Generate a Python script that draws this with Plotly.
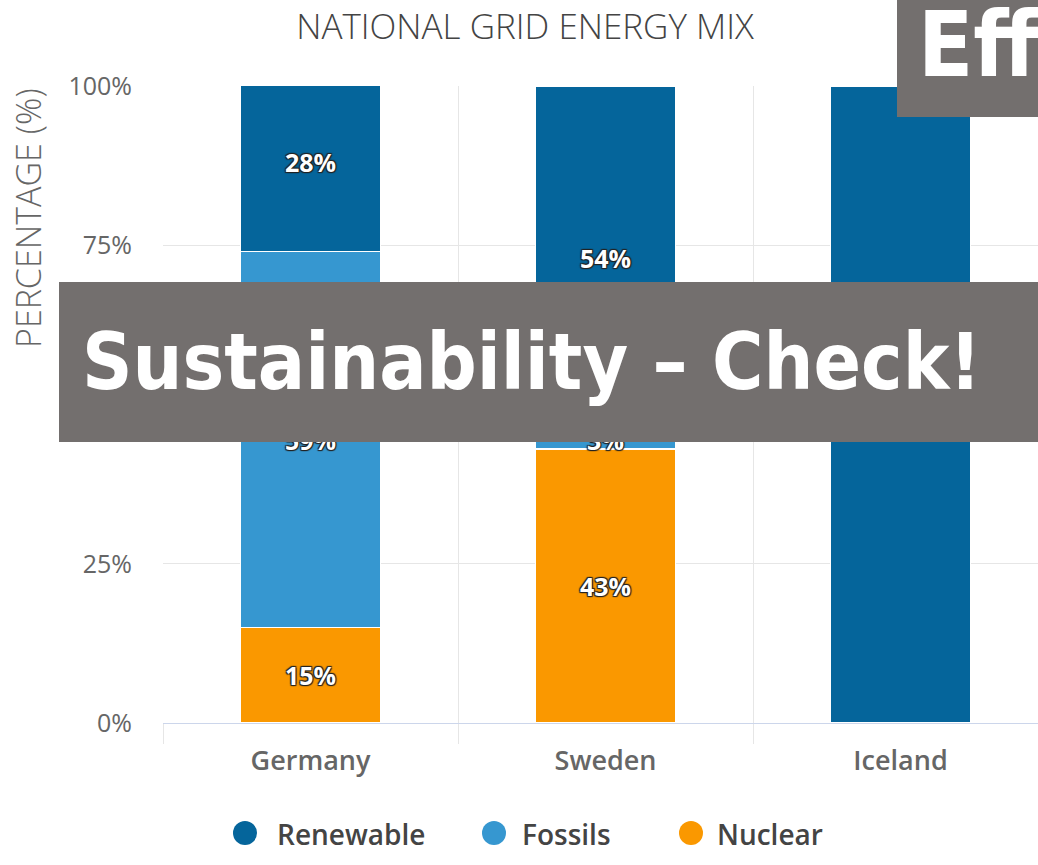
import plotly.graph_objects as go

categories = ["Germany", "Sweden", "Iceland"]
renewable = [28, 54, 100]
fossils = [59, 3, 0]
nuclear = [15, 43, 0]

series_names = ["Renewable", "Fossils", "Nuclear"]
colors = {"Renewable": "#05659b", "Fossils": "#3697d0", "Nuclear": "#fa9800"}

y_tickvals = [0, 25, 50, 75, 100]
y_ticktext = ["0%", "25%", "50%", "75%", "100%"]

title_text = "NATIONAL GRID ENERGY MIX"
yaxis_title = "PERCENTAGE (%)"
banner_text = "Sustainability – Check!"
corner_text = "Eff"

W, H = 1038, 865
L, R, T, B = 163, 0, 86, 142
PW, PH = W - L - R, H - T - B


def px_x(x):
    return (x - L) / PW


def px_y(y):
    return (H - B - y) / PH


fig = go.Figure()

outline = "1px 1px 1px #222, -1px -1px 1px #222, 1px -1px 1px #222, -1px 1px 1px #222"
label_font = dict(family="Open Sans", size=25, color="white", weight="bold", shadow=outline)


def labels(vals):
    return [f"{v}%" if v > 0 else "" for v in vals]


for name, vals in [("Nuclear", nuclear), ("Fossils", fossils), ("Renewable", renewable)]:
    fig.add_trace(go.Bar(
        x=categories, y=vals, name=name, showlegend=False,
        marker=dict(color=colors[name], line=dict(color="white", width=1.5)),
        text=labels(vals), textposition="inside", insidetextanchor="middle",
        textfont=label_font, constraintext="none", cliponaxis=True,
    ))

fig.update_layout(
    width=W, height=H,
    margin=dict(l=L, r=R, t=T, b=B),
    paper_bgcolor="white", plot_bgcolor="white",
    barmode="stack", bargap=0.525,
    showlegend=False,
    title=dict(text=title_text, xref="container", x=525 / W, y=1 - 27 / H,
               xanchor="center", yanchor="middle",
               font=dict(family="Open Sans", size=35, color="#444", weight=300)),
    font=dict(family="Open Sans"),
    uniformtext=dict(mode=False),
)

fig.update_xaxes(
    type="category", range=[-0.5, 2.466], tickson="boundaries",
    showgrid=True, gridcolor="#e6e6e6", gridwidth=1,
    ticks="outside", ticklen=20, tickcolor="#e6e6e6",
    showline=True, linecolor="#ccd6eb", linewidth=1,
    tickfont=dict(family="Open Sans", size=27, color="#666", weight=600),
    ticklabelstandoff=14,
)
fig.update_yaxes(
    range=[0, 100], tickvals=y_tickvals, ticktext=y_ticktext,
    showgrid=True, gridcolor="#e6e6e6", zeroline=False, showline=False,
    tickfont=dict(family="Open Sans", size=25, color="#666"), ticklabelstandoff=30,
)

# y-axis title placed as in the reference
fig.add_annotation(text=yaxis_title, xref="paper", yref="paper",
                   x=px_x(28), y=px_y(218), textangle=-90,
                   showarrow=False, xanchor="center", yanchor="middle",
                   font=dict(family="Open Sans", size=34, color="#666", weight=300))

# legend (circle markers + labels)
legend_pos = {"Renewable": (245, 275), "Fossils": (494, 520), "Nuclear": (691, 715)}
for name in series_names:
    cx, tx = legend_pos[name]
    fig.add_shape(type="circle", xref="paper", yref="paper",
                  xsizemode="pixel", ysizemode="pixel",
                  xanchor=px_x(cx), yanchor=px_y(833),
                  x0=-12, x1=12, y0=-12, y1=12,
                  fillcolor=colors[name], line=dict(width=0))
    fig.add_annotation(text=name, xref="paper", yref="paper",
                       x=px_x(tx), y=px_y(834), xanchor="left", yanchor="middle",
                       showarrow=False,
                       font=dict(family="Open Sans", size=28, color="#444", weight=600))

# overlay banner
fig.add_shape(type="rect", xref="paper", yref="paper",
              x0=px_x(59), x1=1.0, y0=px_y(442), y1=px_y(282),
              fillcolor="#736f6e", line=dict(width=0), layer="above")
fig.add_annotation(text=banner_text, xref="paper", yref="paper",
                   x=px_x(80), y=px_y(362), xanchor="left", yanchor="middle",
                   showarrow=False,
                   font=dict(family="DejaVu Sans Condensed", size=78, color="white", weight="bold"))

# corner box
fig.add_shape(type="rect", xref="paper", yref="paper",
              x0=px_x(897), x1=1.0, y0=px_y(117), y1=px_y(0),
              fillcolor="#736f6e", line=dict(width=0), layer="above")
fig.add_annotation(text=corner_text, xref="paper", yref="paper",
                   x=px_x(916), y=px_y(44), xanchor="left", yanchor="middle",
                   showarrow=False,
                   font=dict(family="DejaVu Sans Condensed", size=90, color="white", weight="bold"))

fig.write_html("out.html", config={"displayModeBar": False},
               post_script="document.body.style.margin='0';")
